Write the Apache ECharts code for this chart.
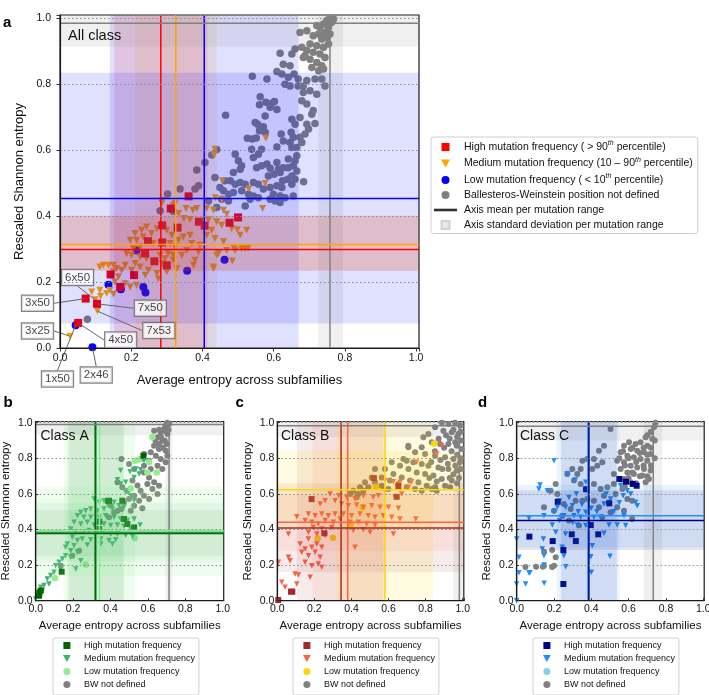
<!DOCTYPE html>
<html><head><meta charset="utf-8">
<script src="https://cdn.jsdelivr.net/npm/echarts@6/dist/echarts.min.js"></script>
<style>html,body{margin:0;padding:0;background:#fff}#main{width:709px;height:695px}</style>
</head><body><div id="main"></div>
<script>
// ================= DATA =================
const AXIS_X_NAME = 'Average entropy across subfamilies';
const AXIS_Y_NAME = 'Rescaled Shannon entropy';
const PANEL_TITLES = ['All class', 'Class A', 'Class B', 'Class C'];
const PANEL_LETTERS = ['a', 'b', 'c', 'd'];

// ---- panel a (all classes) ----
const A_HIGH = [[0.361,0.460],[0.311,0.423],[0.287,0.372],[0.330,0.365],[0.390,0.383],[0.406,0.371],[0.476,0.380],[0.500,0.396],[0.247,0.324],[0.287,0.320],[0.239,0.287],[0.265,0.263],[0.300,0.251],[0.142,0.223],[0.208,0.221],[0.169,0.185],[0.072,0.150],[0.104,0.134],[0.051,0.076]];
const A_MEDIUM = [[0.433,0.585],[0.456,0.507],[0.530,0.482],[0.436,0.456],[0.286,0.440],[0.323,0.438],[0.354,0.423],[0.373,0.418],[0.384,0.423],[0.333,0.408],[0.348,0.393],[0.365,0.390],[0.412,0.423],[0.431,0.418],[0.459,0.418],[0.468,0.406],[0.417,0.388],[0.440,0.383],[0.454,0.372],[0.482,0.362],[0.498,0.359],[0.524,0.357],[0.506,0.342],[0.426,0.357],[0.412,0.342],[0.435,0.332],[0.459,0.322],[0.468,0.296],[0.492,0.296],[0.510,0.302],[0.529,0.305],[0.440,0.281],[0.484,0.264],[0.431,0.246],[0.379,0.266],[0.375,0.251],[0.356,0.296],[0.342,0.281],[0.318,0.281],[0.304,0.286],[0.370,0.317],[0.393,0.312],[0.389,0.291],[0.332,0.327],[0.346,0.337],[0.365,0.342],[0.314,0.342],[0.300,0.357],[0.272,0.362],[0.257,0.347],[0.243,0.367],[0.229,0.357],[0.211,0.347],[0.197,0.327],[0.215,0.327],[0.234,0.337],[0.262,0.317],[0.309,0.317],[0.323,0.307],[0.225,0.307],[0.206,0.302],[0.187,0.286],[0.201,0.281],[0.225,0.276],[0.243,0.271],[0.281,0.281],[0.295,0.271],[0.286,0.256],[0.318,0.266],[0.328,0.241],[0.300,0.231],[0.276,0.210],[0.272,0.226],[0.248,0.236],[0.239,0.221],[0.225,0.246],[0.211,0.256],[0.201,0.236],[0.183,0.251],[0.173,0.236],[0.159,0.241],[0.150,0.251],[0.136,0.251],[0.122,0.251],[0.112,0.246],[0.150,0.231],[0.164,0.216],[0.154,0.200],[0.183,0.195],[0.197,0.185],[0.215,0.190],[0.140,0.175],[0.150,0.163],[0.131,0.165],[0.112,0.175],[0.114,0.157],[0.089,0.170],[0.099,0.146],[0.105,0.112],[0.028,0.036],[0.578,0.636],[0.576,0.499],[0.569,0.423],[0.435,0.603],[0.520,0.302],[0.489,0.302],[0.445,0.287],[0.431,0.241],[0.287,0.448],[0.318,0.433],[0.454,0.450]];
const A_LOW = [[0.215,0.296],[0.136,0.192],[0.171,0.178],[0.234,0.185],[0.240,0.168],[0.357,0.234],[0.462,0.268],[0.044,0.069],[0.091,0.002]];
const A_BW = [[0.758,1.0],[0.749,0.993],[0.740,0.983],[0.730,0.973],[0.721,0.978],[0.754,0.973],[0.763,0.988],[0.768,0.998],[0.744,0.957],[0.726,0.952],[0.711,0.947],[0.735,0.937],[0.749,0.942],[0.758,0.952],[0.702,0.922],[0.721,0.917],[0.740,0.912],[0.754,0.922],[0.693,0.902],[0.711,0.897],[0.730,0.892],[0.744,0.881],[0.683,0.881],[0.702,0.876],[0.721,0.866],[0.735,0.856],[0.674,0.957],[0.693,0.962],[0.660,0.907],[0.679,0.912],[0.688,0.887],[0.707,0.851],[0.726,0.841],[0.740,0.846],[0.618,0.894],[0.651,0.892],[0.627,0.861],[0.646,0.856],[0.609,0.839],[0.623,0.831],[0.641,0.821],[0.657,0.831],[0.669,0.816],[0.693,0.811],[0.716,0.816],[0.735,0.816],[0.744,0.795],[0.683,0.795],[0.669,0.795],[0.646,0.795],[0.632,0.800],[0.540,0.824],[0.581,0.816],[0.683,0.775],[0.702,0.780],[0.721,0.770],[0.679,0.750],[0.693,0.740],[0.711,0.720],[0.707,0.709],[0.562,0.762],[0.560,0.738],[0.578,0.745],[0.595,0.742],[0.602,0.748],[0.609,0.723],[0.590,0.730],[0.465,0.706],[0.576,0.704],[0.674,0.699],[0.651,0.694],[0.660,0.679],[0.693,0.679],[0.716,0.681],[0.698,0.664],[0.688,0.649],[0.548,0.684],[0.555,0.679],[0.571,0.671],[0.560,0.659],[0.576,0.654],[0.526,0.636],[0.540,0.634],[0.551,0.637],[0.621,0.649],[0.649,0.654],[0.655,0.639],[0.674,0.639],[0.679,0.623],[0.646,0.623],[0.627,0.628],[0.538,0.603],[0.566,0.603],[0.543,0.578],[0.557,0.588],[0.440,0.602],[0.609,0.610],[0.651,0.608],[0.665,0.608],[0.641,0.573],[0.660,0.568],[0.665,0.583],[0.492,0.588],[0.501,0.568],[0.510,0.553],[0.506,0.542],[0.552,0.547],[0.566,0.553],[0.581,0.558],[0.590,0.545],[0.609,0.563],[0.613,0.542],[0.627,0.547],[0.641,0.547],[0.655,0.553],[0.665,0.537],[0.585,0.522],[0.601,0.527],[0.618,0.532],[0.625,0.507],[0.639,0.512],[0.651,0.522],[0.660,0.512],[0.684,0.504],[0.435,0.517],[0.463,0.507],[0.478,0.507],[0.492,0.497],[0.506,0.502],[0.520,0.497],[0.543,0.502],[0.557,0.497],[0.571,0.482],[0.590,0.487],[0.609,0.492],[0.623,0.487],[0.651,0.497],[0.449,0.487],[0.459,0.477],[0.473,0.466],[0.487,0.472],[0.510,0.477],[0.529,0.466],[0.543,0.461],[0.557,0.456],[0.590,0.451],[0.599,0.466],[0.618,0.461],[0.632,0.456],[0.655,0.461],[0.487,0.532],[0.454,0.451],[0.473,0.446],[0.520,0.431],[0.534,0.451],[0.618,0.441],[0.604,0.446],[0.407,0.563],[0.426,0.585],[0.384,0.540],[0.389,0.492],[0.379,0.482],[0.337,0.482],[0.417,0.446],[0.440,0.426],[0.302,0.467],[0.281,0.416],[0.318,0.415],[0.077,0.087]];
const A_MEAN_X = [0.283, 0.325, 0.405, 0.758];   // high, medium, low, BW
const A_MEAN_Y = [0.299, 0.314, 0.4535, 0.985];
const A_SD_X = [[0.152,0.414],[0.211,0.440],[0.140,0.670],[0.725,0.795]];
const A_SD_Y = [[0.234,0.400],[0.234,0.403],[0.074,0.835],[0.914,1.060]];
const A_ANNOT_NAMES = ['6x50','3x50','7x50','7x53','3x25','4x50','1x50','2x46'];
const A_ANNOT_PTS = [[0.099,0.146],[0.072,0.150],[0.104,0.134],[0.105,0.112],[0.028,0.036],[0.051,0.076],[0.044,0.069],[0.091,0.002]];

// ---- panel b (class A) ----
const B_HIGH = [[0.576,0.815],[0.463,0.562],[0.392,0.562],[0.472,0.459],[0.490,0.431],[0.526,0.412],[0.339,0.403],[0.020,0.045],[0.018,0.028],[0.027,0.057],[0.139,0.163],[0.388,0.560],[0.340,0.444]];
const B_MEDIUM = [[0.504,0.725],[0.535,0.740],[0.561,0.736],[0.437,0.680],[0.454,0.656],[0.481,0.665],[0.526,0.693],[0.553,0.712],[0.481,0.609],[0.508,0.590],[0.526,0.562],[0.312,0.572],[0.339,0.553],[0.365,0.562],[0.383,0.543],[0.419,0.553],[0.445,0.534],[0.472,0.525],[0.410,0.515],[0.365,0.515],[0.330,0.506],[0.294,0.515],[0.267,0.506],[0.241,0.497],[0.223,0.478],[0.258,0.469],[0.294,0.469],[0.339,0.469],[0.374,0.478],[0.419,0.469],[0.454,0.459],[0.490,0.450],[0.526,0.459],[0.558,0.426],[0.205,0.441],[0.241,0.431],[0.276,0.441],[0.312,0.426],[0.365,0.431],[0.401,0.422],[0.437,0.426],[0.472,0.418],[0.508,0.403],[0.187,0.403],[0.214,0.384],[0.258,0.384],[0.285,0.394],[0.321,0.375],[0.365,0.384],[0.401,0.375],[0.437,0.375],[0.481,0.366],[0.517,0.362],[0.196,0.356],[0.223,0.338],[0.249,0.347],[0.294,0.343],[0.348,0.347],[0.392,0.338],[0.428,0.343],[0.410,0.319],[0.348,0.319],[0.276,0.313],[0.205,0.309],[0.169,0.319],[0.160,0.300],[0.187,0.281],[0.223,0.272],[0.187,0.244],[0.160,0.253],[0.143,0.235],[0.125,0.216],[0.134,0.178],[0.107,0.197],[0.098,0.160],[0.080,0.141],[0.062,0.122],[0.071,0.094],[0.044,0.085],[0.036,0.057],[0.018,0.047],[0.009,0.029],[0.027,0.075],[0.000,0.010],[0.241,0.225],[0.214,0.178],[0.454,0.731],[0.579,0.787]];
const B_LOW = [[0.624,0.918],[0.554,0.793],[0.606,0.778],[0.647,0.721],[0.597,0.721],[0.529,0.353],[0.267,0.203],[0.103,0.126],[0.508,0.631],[0.531,0.787]];
const B_BW = [[0.704,1.0],[0.695,0.984],[0.713,0.993],[0.686,0.955],[0.668,0.946],[0.704,0.937],[0.633,0.955],[0.651,0.918],[0.677,0.899],[0.633,0.871],[0.659,0.852],[0.695,0.843],[0.615,0.834],[0.642,0.815],[0.668,0.796],[0.695,0.778],[0.606,0.787],[0.651,0.759],[0.677,0.740],[0.704,0.815],[0.579,0.824],[0.561,0.796],[0.458,0.796],[0.499,0.768],[0.526,0.740],[0.579,0.721],[0.606,0.693],[0.633,0.665],[0.659,0.646],[0.624,0.628],[0.597,0.656],[0.651,0.600],[0.606,0.572],[0.579,0.590],[0.553,0.562],[0.526,0.590],[0.499,0.572],[0.526,0.534],[0.472,0.553],[0.570,0.519],[0.508,0.506],[0.458,0.515],[0.437,0.506],[0.561,0.618],[0.544,0.647],[0.517,0.675],[0.437,0.665],[0.463,0.637],[0.490,0.618],[0.401,0.534],[0.383,0.562],[0.419,0.497],[0.392,0.469],[0.196,0.253],[0.232,0.281],[0.134,0.197],[0.579,0.759],[0.615,0.740],[0.690,0.970],[0.710,0.960],[0.670,0.920],[0.690,0.900],[0.700,0.880],[0.660,0.880],[0.680,0.860],[0.640,0.900],[0.660,0.960],[0.700,0.950]];
const B_MEAN_X = [0.318, 0.323, 0.341, 0.713];
const B_MEAN_Y = [0.378, 0.385, 0.394, 0.990];
const B_SD_X = [[0.170,0.470],[0.180,0.470],[0.150,0.530],[0.695,0.730]];
const B_SD_Y = [[0.250,0.510],[0.220,0.550],[0.140,0.640],[0.930,1.050]];

// ---- panel c (class B) ----
const C_HIGH = [[0.185,0.571],[0.521,0.689],[0.653,0.644],[0.644,0.584],[0.254,0.379],[0.074,0.051],[0.081,0.051],[0.005,0.004]];
const C_MEDIUM = [[0.887,0.871],[0.860,0.824],[0.752,0.778],[0.725,0.669],[0.581,0.675],[0.626,0.669],[0.662,0.665],[0.581,0.618],[0.671,0.600],[0.635,0.581],[0.707,0.637],[0.545,0.590],[0.518,0.581],[0.464,0.590],[0.419,0.572],[0.374,0.581],[0.330,0.590],[0.285,0.600],[0.312,0.562],[0.258,0.562],[0.231,0.543],[0.347,0.543],[0.383,0.534],[0.428,0.538],[0.464,0.525],[0.509,0.534],[0.554,0.525],[0.599,0.525],[0.653,0.519],[0.168,0.487],[0.204,0.478],[0.240,0.487],[0.275,0.478],[0.312,0.487],[0.356,0.487],[0.401,0.478],[0.446,0.487],[0.491,0.478],[0.527,0.469],[0.572,0.478],[0.617,0.469],[0.662,0.459],[0.747,0.459],[0.105,0.472],[0.150,0.450],[0.186,0.441],[0.221,0.431],[0.258,0.450],[0.302,0.441],[0.338,0.459],[0.392,0.441],[0.437,0.441],[0.482,0.431],[0.527,0.426],[0.194,0.412],[0.240,0.403],[0.294,0.412],[0.410,0.394],[0.464,0.399],[0.500,0.384],[0.626,0.375],[0.060,0.375],[0.168,0.384],[0.213,0.375],[0.258,0.366],[0.168,0.347],[0.123,0.319],[0.150,0.291],[0.186,0.300],[0.213,0.319],[0.240,0.300],[0.419,0.300],[0.132,0.272],[0.168,0.253],[0.204,0.272],[0.231,0.244],[0.060,0.244],[0.069,0.225],[0.150,0.216],[0.186,0.197],[0.221,0.206],[0.240,0.188],[0.096,0.150],[0.114,0.145],[0.177,0.132],[0.024,0.103],[0.042,0.075],[0.105,0.094],[0.006,0.216]];
const C_LOW = [[0.460,0.525],[0.300,0.354],[0.532,0.641],[0.847,0.884],[0.218,0.350],[0.395,0.430]];
const C_BW = [[0.887,1.0],[0.923,0.993],[0.959,1.0],[0.986,0.984],[0.851,0.974],[0.896,0.955],[0.941,0.946],[0.977,0.937],[0.815,0.937],[0.788,0.918],[0.833,0.890],[0.878,0.881],[0.923,0.881],[0.968,0.871],[0.995,0.852],[0.779,0.862],[0.707,0.871],[0.743,0.834],[0.797,0.824],[0.851,0.815],[0.905,0.806],[0.950,0.796],[0.986,0.778],[0.698,0.787],[0.734,0.778],[0.779,0.768],[0.815,0.759],[0.869,0.749],[0.923,0.740],[0.968,0.731],[0.617,0.778],[0.662,0.759],[0.707,0.740],[0.752,0.721],[0.797,0.712],[0.842,0.703],[0.887,0.684],[0.941,0.675],[0.581,0.740],[0.626,0.712],[0.671,0.693],[0.716,0.675],[0.761,0.665],[0.806,0.646],[0.851,0.637],[0.527,0.740],[0.563,0.693],[0.608,0.675],[0.653,0.656],[0.698,0.637],[0.743,0.628],[0.779,0.618],[0.833,0.628],[0.860,0.618],[0.509,0.693],[0.527,0.665],[0.563,0.646],[0.599,0.628],[0.473,0.665],[0.491,0.637],[0.446,0.637],[0.464,0.618],[0.410,0.618],[0.437,0.600],[0.392,0.600],[0.428,0.581],[0.905,0.646],[0.932,0.637],[0.707,0.862],[0.680,0.796],[0.950,0.960],[0.970,0.920],[0.990,0.900],[0.930,0.910],[0.960,0.890],[0.990,0.950],[0.910,0.930],[0.870,0.910],[0.900,0.860],[0.940,0.840],[0.970,0.820],[0.990,0.800],[0.920,0.770],[0.960,0.760],[0.990,0.740],[0.880,0.790],[0.950,0.710],[0.980,0.690],[0.850,0.840],[0.890,0.740],[0.830,0.780],[0.860,0.670],[0.930,0.690],[0.970,0.660],[0.820,0.690]];
const C_MEAN_X = [0.344, 0.380, 0.581, 0.982];
const C_MEAN_Y = [0.409, 0.441, 0.624, 0.983];
const C_SD_X = [[0.105,0.580],[0.190,0.570],[0.320,0.840],[0.950,1.010]];
const C_SD_Y = [[0.160,0.660],[0.280,0.600],[0.400,0.840],[0.920,1.050]];

// ---- panel d (class C) ----
const D_HIGH = [[0.068,0.360],[0.193,0.335],[0.250,0.285],[0.250,0.094],[0.220,0.556],[0.295,0.373],[0.317,0.335],[0.372,0.626],[0.437,0.373],[0.397,0.425],[0.496,0.547],[0.550,0.684],[0.586,0.669],[0.622,0.656],[0.643,0.646]];
const D_MEDIUM = [[0.200,0.787],[0.125,0.650],[0.275,0.712],[0.314,0.678],[0.271,0.712],[0.370,0.665],[0.119,0.628],[0.164,0.618],[0.218,0.525],[0.262,0.525],[0.298,0.534],[0.370,0.497],[0.468,0.543],[0.503,0.572],[0.557,0.646],[0.593,0.618],[0.611,0.600],[0.637,0.553],[0.646,0.534],[0.575,0.478],[0.584,0.422],[0.539,0.426],[0.495,0.426],[0.414,0.469],[0.343,0.469],[0.307,0.478],[0.253,0.478],[0.146,0.478],[0.066,0.463],[0.325,0.426],[0.370,0.422],[0.209,0.384],[0.262,0.375],[0.191,0.426],[0.143,0.347],[0.146,0.253],[0.137,0.291],[0.244,0.300],[0.253,0.253],[0.405,0.309],[0.400,0.160],[0.500,0.250],[0.000,0.347],[0.012,0.244],[0.066,0.156],[0.000,0.094],[0.048,0.094],[0.012,0.157],[0.071,0.157],[0.147,0.098],[0.147,0.200],[0.263,0.191],[0.468,0.379],[0.397,0.247],[0.000,0.000],[0.230,0.560],[0.280,0.580],[0.320,0.600],[0.350,0.540],[0.400,0.520],[0.430,0.500],[0.450,0.470],[0.300,0.440],[0.230,0.450],[0.200,0.500],[0.330,0.500],[0.520,0.500],[0.480,0.600],[0.550,0.550],[0.570,0.590]];
const D_LOW = [];
const D_BW = [[0.744,1.0],[0.736,0.974],[0.718,0.946],[0.691,0.918],[0.727,0.909],[0.664,0.890],[0.700,0.871],[0.637,0.881],[0.602,0.890],[0.575,0.871],[0.611,0.852],[0.646,0.843],[0.682,0.834],[0.718,0.824],[0.557,0.834],[0.593,0.815],[0.628,0.806],[0.664,0.796],[0.700,0.787],[0.539,0.787],[0.575,0.778],[0.611,0.759],[0.646,0.749],[0.682,0.740],[0.718,0.731],[0.557,0.740],[0.593,0.721],[0.628,0.712],[0.673,0.703],[0.709,0.684],[0.521,0.712],[0.691,0.665],[0.575,0.684],[0.611,0.665],[0.503,0.965],[0.468,0.871],[0.441,0.843],[0.414,0.796],[0.432,0.759],[0.459,0.778],[0.405,0.740],[0.378,0.796],[0.352,0.787],[0.343,0.740],[0.325,0.712],[0.298,0.740],[0.271,0.712],[0.307,0.675],[0.343,0.656],[0.370,0.628],[0.414,0.656],[0.450,0.628],[0.486,0.637],[0.521,0.656],[0.468,0.590],[0.495,0.553],[0.530,0.600],[0.566,0.628],[0.593,0.572],[0.619,0.562],[0.575,0.506],[0.539,0.525],[0.503,0.497],[0.441,0.525],[0.414,0.562],[0.378,0.572],[0.352,0.562],[0.316,0.562],[0.289,0.515],[0.253,0.543],[0.218,0.600],[0.209,0.656],[0.182,0.618],[0.146,0.525],[0.200,0.506],[0.244,0.478],[0.280,0.450],[0.334,0.422],[0.459,0.469],[0.619,0.459],[0.209,0.244],[0.146,0.197],[0.200,0.197],[0.047,0.190],[0.104,0.191],[0.140,0.191],[0.190,0.190],[0.147,0.275],[0.190,0.285],[0.720,0.950],[0.700,0.930],[0.740,0.900],[0.680,0.860],[0.720,0.860],[0.660,0.830],[0.700,0.820],[0.740,0.800],[0.620,0.860],[0.600,0.800],[0.640,0.780],[0.680,0.760],[0.720,0.760],[0.580,0.760],[0.620,0.720],[0.660,0.700],[0.700,0.700],[0.600,0.690],[0.640,0.660],[0.560,0.680],[0.580,0.640],[0.550,0.800],[0.570,0.840]];
const D_MEAN_X = [0.387, 0.382, null, 0.732];
const D_MEAN_Y = [0.450, 0.478, null, 0.980];
const D_SD_X = [[0.238,0.537],[0.214,0.550],null,[0.680,0.780]];
const D_SD_Y = [[0.285,0.620],[0.300,0.650],null,[0.900,1.060]];

const LEGEND_A = ['High mutation frequency ( > 90{s|th} percentile)', 'Medium mutation frequency (10 \u2013 90{s|th} percentile)', 'Low mutation frequency ( < 10{s|th} percentile)', 'Ballesteros-Weinstein position not defined', 'Axis mean per mutation range', 'Axis standard deviation per mutation range'];
const LEGEND_SUB = ['High mutation frequency', 'Medium mutation frequency', 'Low mutation frequency', 'BW not defined'];

// ================= STYLE / LAYOUT =================
const FONT = '"Liberation Sans", Arial, Helvetica, sans-serif';
const PANELS = [
  { key:'a', grid:{left:60, top:15, width:359, height:333}, xMax:1.008, yMax:1.01, main:true,
    colors:['#ff0000','#ffa500','#0000ff','#808080'],
    bands:['rgba(255,0,0,0.12)','rgba(255,165,0,0.12)','rgba(0,0,255,0.12)','rgba(128,128,128,0.12)'],
    pts:[A_HIGH,A_MEDIUM,A_LOW,A_BW], mx:A_MEAN_X, my:A_MEAN_Y, sx:A_SD_X, sy:A_SD_Y },
  { key:'b', grid:{left:35.7, top:421.5, width:188, height:179.2}, xMax:1.005, yMax:1.007,
    colors:['#006400','#3cb371','#90ee90','#808080'],
    bands:['rgba(0,100,0,0.07)','rgba(60,179,113,0.09)','rgba(144,238,144,0.14)','rgba(128,128,128,0.12)'],
    pts:[B_HIGH,B_MEDIUM,B_LOW,B_BW], mx:B_MEAN_X, my:B_MEAN_Y, sx:B_SD_X, sy:B_SD_Y },
  { key:'c', grid:{left:277.3, top:421.5, width:186.5, height:179.2}, xMax:1.006, yMax:1.007,
    colors:['#a52a2a','#ff6347','#ffd700','#808080'],
    bands:['rgba(165,42,42,0.09)','rgba(255,99,71,0.09)','rgba(255,215,0,0.12)','rgba(128,128,128,0.12)'],
    pts:[C_HIGH,C_MEDIUM,C_LOW,C_BW], mx:C_MEAN_X, my:C_MEAN_Y, sx:C_SD_X, sy:C_SD_Y },
  { key:'d', grid:{left:516.7, top:421.5, width:187.5, height:179.2}, xMax:1.005, yMax:1.007,
    colors:['#000080','#1e90ff','#87ceeb','#808080'],
    bands:['rgba(0,0,128,0.1)','rgba(30,144,255,0.1)','rgba(135,206,235,0.12)','rgba(128,128,128,0.12)'],
    pts:[D_HIGH,D_MEDIUM,D_LOW,D_BW], mx:D_MEAN_X, my:D_MEAN_Y, sx:D_SD_X, sy:D_SD_Y }
];
const GROUP_KEYS = ['High','Medium','Low','BW'];
const SQ = 'path://M0,0L10,0L10,10L0,10Z';
const TRI = 'path://M0,0L10,0L5,9Z';
const BAR = 'path://M0,0L23,0L23,2.6L0,2.6Z';
const ANNOT_OFFSETS = [[-17.7,-22.4],[-48.1,4.7],[53.3,4.4],[61.4,19.5],[-32.5,-5.1],[42.5,17],[-18.2,53.8],[3.8,27.7]];
const SUB_LEGEND_POS = [[53,638],[293,638],[533,638]];

function tickFmt(v){ const k = v*5; return Math.abs(k-Math.round(k))<1e-6 ? v.toFixed(1) : ''; }

const grids=[], xAxes=[], yAxes=[], series=[], legends=[];
const legendText = {};

PANELS.forEach((p, gi) => {
  const main = !!p.main;
  grids.push(Object.assign({show:true, borderColor:'#1a1a1a', borderWidth:1.2, backgroundColor:'transparent', containLabel:false, outerBoundsMode:'none'}, p.grid));
  xAxes.push({gridIndex:gi, type:'value', min:0, max:p.xMax, interval:0.2, z:10,
    name:AXIS_X_NAME, nameLocation:'middle', nameGap: main?26:19.5,
    nameTextStyle:{fontSize: main?13:11.5, color:'#111', fontFamily:FONT},
    axisLine:{show:true, onZero:false, lineStyle:{color:'#1a1a1a', width:1.2}},
    axisTick:{show:true, inside:!main, length: main?3.5:2.5, lineStyle:{color:'#333'}},
    axisLabel:{fontSize:10.5, color:'#111', margin: main?5:3, formatter:tickFmt, fontFamily:FONT, showMaxLabel:true, hideOverlap:false},
    splitLine:{show:false}});
  yAxes.push({gridIndex:gi, type:'value', min:0, max:p.yMax, interval:0.2, z:10,
    name:AXIS_Y_NAME, nameLocation:'middle', nameGap: main?33:23.5,
    nameTextStyle:{fontSize: main?13:11.5, color:'#111', fontFamily:FONT},
    axisLine:{show:true, onZero:false, lineStyle:{color:'#1a1a1a', width:1.2}},
    axisTick:{show:true, inside:!main, length: main?3.5:2.5, lineStyle:{color:'#333'}},
    axisLabel:{fontSize:10.5, color:'#111', margin: main?9:3, formatter:tickFmt, fontFamily:FONT},
    splitLine:{show:true, lineStyle:{type:[1.5,2.5], color:'#8a8a8a', width:1}}});

  // points, drawn BW, Low, Medium, High
  const size = main ? [8,7,8,7.5] : [6,5.5,6.5,6];
  const symbols = ['rect','triangle','circle','circle'];
  [3,2,1,0].forEach(k => {
    series.push({type:'scatter', name:p.key+GROUP_KEYS[k], xAxisIndex:gi, yAxisIndex:gi, z:2,
      symbol:symbols[k], symbolRotate: k===1?180:0, symbolSize:size[k],
      itemStyle:{color:p.colors[k], opacity:1}, data:p.pts[k], silent:true, clip:false});
  });

  // std bands (drawn over points, semi-transparent)
  const bandData = [];
  p.sx.forEach((b,i)=>{ if(b) bandData.push([b[0],b[1],0,i]); });
  p.sy.forEach((b,i)=>{ if(b) bandData.push([b[0],b[1],1,i]); });
  series.push({type:'custom', name:p.key+'Std', xAxisIndex:gi, yAxisIndex:gi, z:3, silent:true,
    data:bandData,
    renderItem:(params, api)=>{
      const lo=api.value(0), hi=api.value(1), dir=api.value(2), ci=api.value(3);
      const cs=params.coordSys;
      let r;
      if(dir===0){ const a=api.coord([lo,0])[0], b=api.coord([hi,0])[0]; r={x:a,y:cs.y,width:b-a,height:cs.height}; }
      else { const a=api.coord([0,hi])[1], b=api.coord([0,lo])[1]; r={x:cs.x,y:a,width:cs.width,height:b-a}; }
      r = echarts.graphic.clipRectByRect(r, {x:cs.x,y:cs.y,width:cs.width,height:cs.height});
      if(!r) return null;
      return {type:'rect', shape:r, style:{fill:p.bands[ci]}};
    }});

  // mean lines
  const lineData = [];
  [3,2,1,0].forEach(i=>{ if(p.mx[i]!=null) lineData.push([p.mx[i],0,0,i]); });
  [3,2,1,0].forEach(i=>{ if(p.my[i]!=null) lineData.push([0,p.my[i],1,i]); });
  series.push({type:'custom', name:p.key+'Mean', xAxisIndex:gi, yAxisIndex:gi, z:4, silent:true,
    data:lineData,
    renderItem:(params, api)=>{
      const dir=api.value(2), ci=api.value(3), cs=params.coordSys;
      let sh;
      if(dir===0){ const x=api.coord([api.value(0),0])[0]; sh={x1:x,y1:cs.y,x2:x,y2:cs.y+cs.height}; }
      else { const y=api.coord([0,api.value(1)])[1]; sh={x1:cs.x,y1:y,x2:cs.x+cs.width,y2:y}; }
      return {type:'line', shape:sh, style:{stroke:p.colors[ci], lineWidth:1.5, fill:null}};
    }});
});

// legend-only dummy series for panel a
series.push({type:'scatter', name:'aMeanLeg', xAxisIndex:0, yAxisIndex:0, data:[], itemStyle:{color:'#000'}});
series.push({type:'scatter', name:'aStdLeg', xAxisIndex:0, yAxisIndex:0, data:[], itemStyle:{color:'#e4e4e4', borderColor:'#c8c8c8', borderWidth:0.8}});

// annotations in panel a
series.push({type:'scatter', name:'annot', xAxisIndex:0, yAxisIndex:0, z:6, silent:true, clip:false,
  symbolSize:1, itemStyle:{color:'rgba(0,0,0,0)'},
  data:A_ANNOT_PTS.map((v,i)=>({value:v, name:A_ANNOT_NAMES[i]})),
  label:{show:true, position:'inside', formatter:'{b}', fontSize:11.5, color:'#111', fontFamily:FONT,
    backgroundColor:'#fff', borderColor:'#666', borderWidth:1.2, padding:[2,3,1,3]},
  labelLine:{show:true, lineStyle:{color:'#666', width:1}},
  labelLayout:(prm)=>{ const o=ANNOT_OFFSETS[prm.dataIndex]; return {dx:o[0], dy:o[1]}; }
});

// legends
const aNames = ['aHigh','aMedium','aLow','aBW','aMeanLeg','aStdLeg'];
const aIcons = [SQ, TRI, 'circle', 'circle', BAR, SQ];
aNames.forEach((n,i)=>{ legendText[n]=LEGEND_A[i]; });
legends.push({orient:'vertical', left:431, top:137, itemWidth:23, itemHeight:8, itemGap:4,
  padding:[3,5,3,3], borderColor:'#cfcfcf', borderWidth:1, borderRadius:3, backgroundColor:'#fff',
  selectedMode:false, align:'left', symbolKeepAspect:true,
  data:aNames.map((n,i)=>({name:n, icon:aIcons[i]})),
  formatter:(n)=>legendText[n],
  textStyle:{fontSize:10.5, color:'#111', fontFamily:FONT, padding:[0,0,0,2],
    rich:{s:{fontSize:7, fontStyle:'italic', verticalAlign:'top', padding:[0,0,7,0], fontFamily:FONT, color:'#111'}}}});
['b','c','d'].forEach((k,j)=>{
  const names = GROUP_KEYS.map(g=>k+g);
  names.forEach((n,i)=>{ legendText[n]=LEGEND_SUB[i]; });
  legends.push({orient:'vertical', left:SUB_LEGEND_POS[j][0], top:SUB_LEGEND_POS[j][1], itemWidth:8, itemHeight:7, itemGap:4,
    padding:[3,4,6,10], borderColor:'#cfcfcf', borderWidth:1, borderRadius:2, backgroundColor:'#fff',
    selectedMode:false, align:'left', symbolKeepAspect:true,
    data:names.map((n,i)=>({name:n, icon:[SQ,TRI,'circle','circle'][i]})),
    formatter:(n)=>legendText[n],
    textStyle:{fontSize:9, color:'#111', fontFamily:FONT, padding:[0,0,0,8]}});
});

// panel letters and titles
const graphics = [];
const LETTER_POS = [[3,22.5],[3.5,402.5],[235.5,403],[478,402.5]];
const TITLE_POS = [[68,36],[40.5,436.5],[281,436.5],[520,436.5]];
PANEL_LETTERS.forEach((t,i)=>graphics.push({type:'text', x:LETTER_POS[i][0], y:LETTER_POS[i][1], z:100,
  style:{text:t, font:'bold 15px '+FONT, fill:'#000', verticalAlign:'middle', align:'left'}}));
PANEL_TITLES.forEach((t,i)=>graphics.push({type:'text', x:TITLE_POS[i][0], y:TITLE_POS[i][1], z:100,
  style:{text:t, font:(i===0?'14.5px ':'14px ')+FONT, fill:'#111', verticalAlign:'middle', align:'left'}}));

const chart = echarts.init(document.getElementById('main'), null, {renderer:'canvas', width:709, height:695});
chart.setOption({
  animation:false, backgroundColor:'#fff',
  textStyle:{fontFamily:FONT},
  grid:grids, xAxis:xAxes, yAxis:yAxes, series:series, legend:legends, graphic:graphics,
  tooltip:{show:false}
});
</script></body></html>
